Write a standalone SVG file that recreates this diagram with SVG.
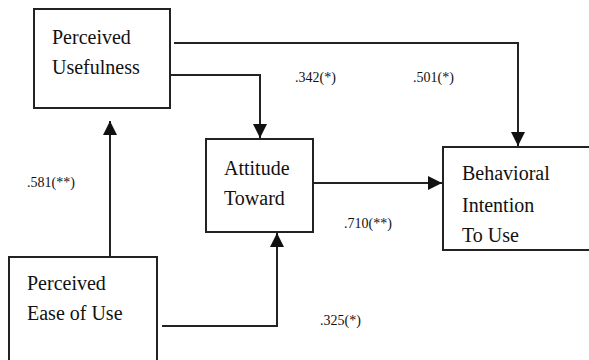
<svg xmlns="http://www.w3.org/2000/svg" width="589" height="360" viewBox="0 0 589 360">
<style>
.box{fill:#fff;stroke:#222;stroke-width:2}
.t{font-family:"Liberation Serif","Times New Roman",serif;font-size:20px;fill:#111}
.l{font-family:"Liberation Serif","Times New Roman",serif;font-size:14px;fill:#111}
.c{fill:none;stroke:#222;stroke-width:2}
</style>
<defs>
<marker id="ah" markerUnits="userSpaceOnUse" markerWidth="14" markerHeight="14" viewBox="0 0 12 12" refX="12" refY="6" orient="auto">
<path d="M0,0 L12,6 L0,12 Z" fill="#111"/>
</marker>
</defs>
<rect width="589" height="360" fill="#fff"/>
<g id="connectors">
<path class="c" d="M174,43 H518 V146" marker-end="url(#ah)"/>
<path class="c" d="M170,75 H260 V138" marker-end="url(#ah)"/>
<path class="c" d="M313,183 H442" marker-end="url(#ah)"/>
<path class="c" d="M110,257 V121" marker-end="url(#ah)"/>
<path class="c" d="M162,326 H277 V233" marker-end="url(#ah)"/>
</g>
<g id="pu">
<rect class="box" x="34" y="9" width="136" height="99"/>
<text class="t" x="52" y="44">Perceived</text>
<text class="t" x="52" y="74">Usefulness</text>
</g>
<g id="att">
<rect class="box" x="206" y="139" width="107" height="93"/>
<text class="t" x="224" y="175">Attitude</text>
<text class="t" x="224" y="205">Toward</text>
</g>
<g id="bi">
<rect class="box" x="443" y="147" width="160" height="103"/>
<text class="t" x="462" y="180">Behavioral</text>
<text class="t" x="462" y="212">Intention</text>
<text class="t" x="462" y="242">To Use</text>
</g>
<g id="peu">
<rect class="box" x="9" y="257" width="148" height="120"/>
<text class="t" x="27" y="290">Perceived</text>
<text class="t" x="27" y="320">Ease of Use</text>
</g>
<g id="labels">
<text class="l" x="295" y="82">.342(*)</text>
<text class="l" x="413" y="82">.501(*)</text>
<text class="l" x="344" y="228">.710(**)</text>
<text class="l" x="27" y="187">.581(**)</text>
<text class="l" x="320" y="325">.325(*)</text>
</g>
</svg>
